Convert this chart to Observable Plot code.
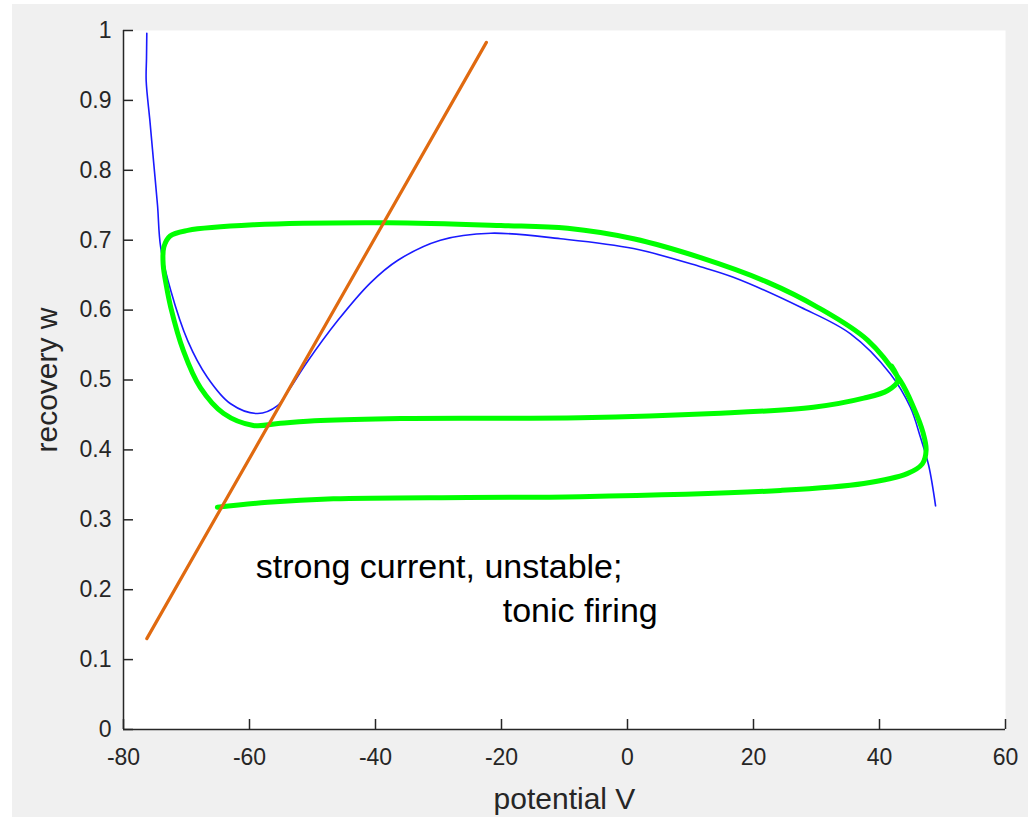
<!DOCTYPE html>
<html>
<head>
<meta charset="utf-8">
<script src="https://cdn.jsdelivr.net/npm/d3@7"></script>
<script src="https://cdn.jsdelivr.net/npm/@observablehq/plot@0.6"></script>
<style>
  html, body { margin: 0; padding: 0; background: #ffffff; }
  #chart { position: absolute; left: 12px; top: 4px; }
  #chart svg { background: #f0f0f0; display: block; }
</style>
</head>
<body>
<div id="chart"></div>
<script>
// V-nullcline (blue)
const blueV = [-76.3, -76.35, -76.4, -75.8, -75.2, -74.6, -74.1, -72.5, -69.8, -66.7, -63.0, -58.7, -55.6, -53.8, -50.9, -46.0, -40.8, -36.5, -29.7, -21.7, -10.6, 0.95, 11.6, 16.8, 27.5, 35.4, 41.7, 44.9, 46.5, 47.8, 48.9];
const blueW = [0.996, 0.960, 0.928, 0.870, 0.810, 0.750, 0.690, 0.628, 0.556, 0.504, 0.466, 0.452, 0.463, 0.485, 0.525, 0.585, 0.639, 0.671, 0.700, 0.710, 0.702, 0.688, 0.662, 0.647, 0.604, 0.566, 0.509, 0.461, 0.418, 0.378, 0.320];

// w-nullcline (orange)
const orangeV = [-76.3, -22.4];
const orangeW = [0.130, 0.983];

// trajectory (green)
const greenV = [-65.1, -57.1, -46.7, -25.4, -7.5, 24.3, 37.5, 44.4, 46.8, 47.4, 46.9, 45.4, 43.3, 38.1, 30.2, 22.2, 11.6, 0.95, -9.5, -20.1, -38.1, -59.4, -69.8, -72.6, -73.6, -73.7, -73.2, -72.5, -70.5, -67.8, -64.1, -59.4, -55.1, -48.7, -36.0, -7.5, 13.7, 29.5, 37.5, 41.3, 42.9, 41.9];
const greenW = [0.318, 0.325, 0.330, 0.332, 0.333, 0.342, 0.352, 0.366, 0.380, 0.400, 0.425, 0.461, 0.499, 0.557, 0.604, 0.640, 0.675, 0.702, 0.717, 0.721, 0.725, 0.722, 0.714, 0.706, 0.690, 0.665, 0.635, 0.604, 0.542, 0.489, 0.452, 0.435, 0.438, 0.442, 0.445, 0.446, 0.452, 0.461, 0.474, 0.485, 0.499, 0.520];

const xTicks = [-80, -60, -40, -20, 0, 20, 40, 60];
const yTicks = [0, 0.1, 0.2, 0.3, 0.4, 0.5, 0.6, 0.7, 0.8, 0.9, 1];

const xLabel = "potential V";
const yLabel = "recovery w";
const note1 = "strong current, unstable;";
const note2 = "tonic firing";

const blue = blueV.map((v, i) => ({V: v, w: blueW[i]}));
const orange = orangeV.map((v, i) => ({V: v, w: orangeW[i]}));
const green = greenV.map((v, i) => ({V: v, w: greenW[i]}));

const axisColor = "#262626";

const plot = Plot.plot({
  width: 1016,
  height: 813,
  marginLeft: 111,
  marginRight: 23,
  marginTop: 26,
  marginBottom: 88,
  style: {fontFamily: "'Liberation Sans', Arial, Helvetica, sans-serif", background: "#f0f0f0"},
  x: {domain: [-80, 60], axis: null},
  y: {domain: [0, 1], axis: null},
  marks: [
    Plot.frame({fill: "white", stroke: "none"}),
    Plot.line(blue, {x: "V", y: "w", stroke: "#1a1aff", strokeWidth: 1.6, curve: "catmull-rom"}),
    Plot.line(green, {x: "V", y: "w", stroke: "#00ff00", strokeWidth: 5, curve: "catmull-rom"}),
    Plot.line(orange, {x: "V", y: "w", stroke: "#e06a10", strokeWidth: 3.2}),
    Plot.ruleX([-80], {stroke: axisColor, strokeWidth: 1.5}),
    Plot.ruleY([0], {stroke: axisColor, strokeWidth: 1.5}),
    Plot.tickX(xTicks, {x: d => d, stroke: axisColor, strokeWidth: 1.5, insetTop: 689}),
    Plot.tickY(yTicks, {y: d => d, stroke: axisColor, strokeWidth: 1.5, insetRight: 872}),
    Plot.axisX(xTicks, {tickSize: 0, tickPadding: 19, fontSize: 23, color: axisColor, fill: axisColor, label: null, tickFormat: d => String(d)}),
    Plot.axisY(yTicks, {tickSize: 0, tickPadding: 12, fontSize: 23, color: axisColor, fill: axisColor, label: null, tickFormat: d => String(d)}),
    Plot.text([xLabel], {frameAnchor: "bottom", textAnchor: "middle", dy: 79, fontSize: 30, fill: axisColor}),
    Plot.text([yLabel], {frameAnchor: "left", textAnchor: "middle", lineAnchor: "middle", dx: -76, rotate: -90, fontSize: 30, fill: axisColor}),
    Plot.text([note1], {x: -59.0, y: 0.232, textAnchor: "start", fontSize: 34, fill: "black"}),
    Plot.text([note2], {x: -19.8, y: 0.170, textAnchor: "start", fontSize: 34, fill: "black"})
  ]
});

document.getElementById("chart").appendChild(plot);
</script>
</body>
</html>
